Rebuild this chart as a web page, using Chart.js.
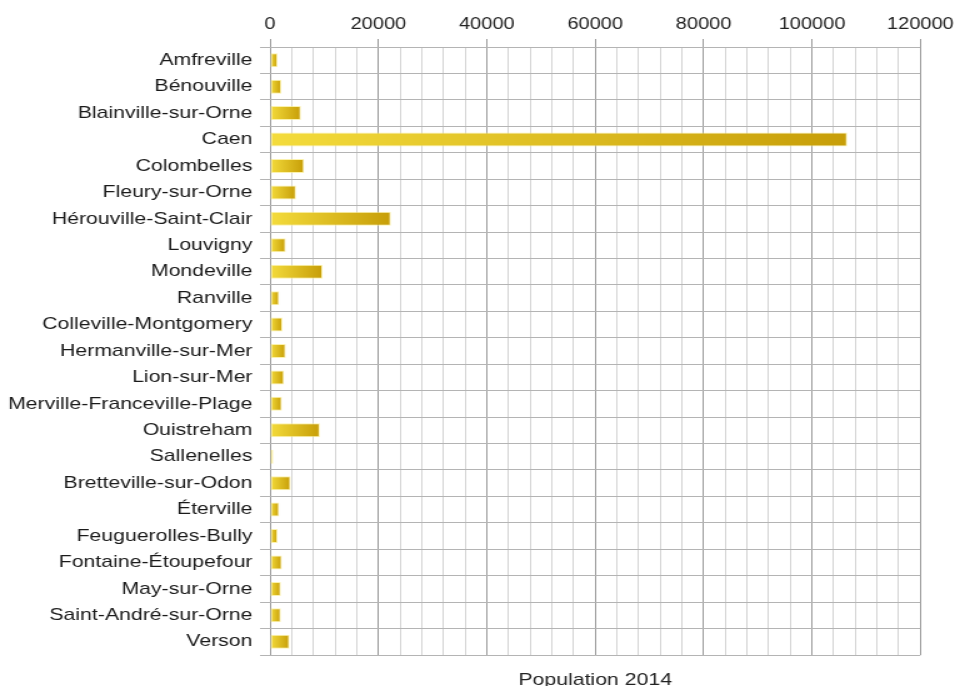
<!DOCTYPE html>
<html>
<head>
<meta charset="utf-8">
<script src="https://cdn.jsdelivr.net/npm/chart.js@4/dist/chart.umd.min.js"></script>
<style>
  html, body { margin: 0; padding: 0; background: #fff; }
</style>
</head>
<body>
<!-- drawn at 768 wide, shown at 960: the chart is stretched horizontally -->
<canvas id="popChart" width="768" height="686" style="display:block;width:960px;height:686px"></canvas>
<script>
const communes = [
    'Amfreville', 'Bénouville', 'Blainville-sur-Orne', 'Caen', 'Colombelles',
    'Fleury-sur-Orne', 'Hérouville-Saint-Clair', 'Louvigny', 'Mondeville', 'Ranville',
    'Colleville-Montgomery', 'Hermanville-sur-Mer', 'Lion-sur-Mer', 'Merville-Franceville-Plage',
    'Ouistreham', 'Sallenelles', 'Bretteville-sur-Odon', 'Éterville', 'Feuguerolles-Bully',
    'Fontaine-Étoupefour', 'May-sur-Orne', 'Saint-André-sur-Orne', 'Verson'
];
const population2014 = [
    1400, 2100, 5700, 106500, 6300,
    4800, 22300, 2900, 9700, 1700,
    2300, 2900, 2600, 2200,
    9200, 600, 3800, 1700, 1400,
    2200, 2000, 2000, 3600
];
const axisMin = 0;
const axisMax = 120000;
const minorStep = 4000;
const majorStep = 20000;

const fontFamily = '"Liberation Sans", Arial, sans-serif';

// gradient per bar, light yellow at the base to gold at the tip
function barFill(context) {
    const chart = context.chart;
    if (!chart.chartArea) return '#e2c21e';
    const x = chart.scales.x;
    const x0 = x.getPixelForValue(0);
    const x1 = x.getPixelForValue(population2014[context.dataIndex]);
    const g = chart.ctx.createLinearGradient(x0, 0, Math.max(x1, x0 + 1), 0);
    g.addColorStop(0, '#f4dc3c');
    g.addColorStop(1, '#c79e08');
    return g;
}

const isMajor = v => v % majorStep === 0;

new Chart(document.getElementById('popChart'), {
    type: 'bar',
    data: {
        labels: communes,
        datasets: [{
            label: 'Population 2014',
            data: population2014,
            backgroundColor: barFill,
            borderColor: 'rgba(250, 236, 140, 0.7)',
            borderWidth: 1,
            borderSkipped: false,
            barPercentage: 0.53,
            categoryPercentage: 1
        }]
    },
    options: {
        indexAxis: 'y',
        responsive: false,
        animation: false,
        devicePixelRatio: 1,
        layout: { padding: { left: 0, right: 28, top: 0, bottom: 0 } },
        plugins: {
            legend: { display: false },
            tooltip: { enabled: false }
        },
        scales: {
            x: {
                position: 'top',
                min: axisMin,
                max: axisMax,
                afterFit: s => { s.height = 47; },
                border: { display: false },
                grid: {
                    color: c => isMajor(c.tick.value) ? '#9a9a9a' : '#d4d4d4',
                    tickColor: c => isMajor(c.tick.value) ? '#9a9a9a' : 'rgba(0,0,0,0)',
                    tickLength: 8
                },
                ticks: {
                    stepSize: minorStep,
                    autoSkip: false,
                    maxRotation: 0,
                    padding: 5,
                    color: '#222',
                    font: { family: fontFamily, size: 16 },
                    callback: v => isMajor(v) ? String(v) : ''
                }
            },
            x2: {
                position: 'bottom',
                type: 'linear',
                min: axisMin,
                max: axisMax,
                afterFit: s => { s.height = 31; },
                border: { display: false },
                grid: { display: false },
                ticks: { display: false },
                title: {
                    display: true,
                    text: 'Population 2014',
                    color: '#222',
                    font: { family: fontFamily, size: 17, lineHeight: 1 },
                    padding: { top: 0, bottom: -3 }
                }
            },
            y: {
                afterFit: s => { s.width = 216; },
                border: { display: false },
                grid: {
                    color: '#b4b4b4',
                    tickColor: '#b4b4b4',
                    tickLength: 8
                },
                ticks: {
                    padding: 6,
                    color: '#1a1a1a',
                    font: { family: fontFamily, size: 17 },
                    autoSkip: false
                }
            }
        }
    }
});
</script>
</body>
</html>
